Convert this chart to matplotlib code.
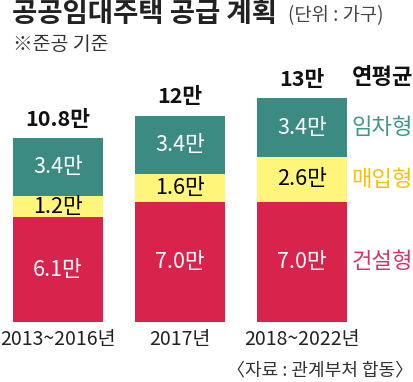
import matplotlib
matplotlib.use("Agg")
import matplotlib.pyplot as plt
import numpy as np

plt.rcParams['font.family'] = ['Noto Sans CJK KR', 'DejaVu Sans']

# data (unit: 만 가구)
periods = ['2013~2016년', '2017년', '2018~2022년']
built = [6.1, 7.0, 7.0]       # 건설형
bought = [1.2, 1.6, 2.6]      # 매입형
leased = [3.4, 3.4, 3.4]      # 임차형
totals = ['10.8만', '12만', '13만']
types = ['건설형', '매입형', '임차형']

c_red = '#d8234c'
c_yel = '#fff57a'
c_teal = '#3b8b82'
txt_cols = ['#d6336b', '#f0c400', '#3f978c']

W, H = 413, 382
fig = plt.figure(figsize=(W / 100, H / 100), dpi=100)

# bars axes: bottom at 322px, 17.2 px per unit, bar spacing 122 px
ax = fig.add_axes([0, (H - 322) / H, 1, 262 / H])
ax.set_ylim(0, 262 / 17.2)
ax.set_xlim(-58 / 122, (W - 58) / 122)
ax.axis('off')

x = np.arange(len(periods))
bw = 90 / 122
ax.bar(x, built, bw, color=c_red)
ax.bar(x, bought, bw, bottom=built, color=c_yel)
bot3 = np.array(built) + np.array(bought)
ax.bar(x, leased, bw, bottom=bot3, color=c_teal)

fs = 15.5
for i in range(len(x)):
    ax.text(x[i], built[i] / 2, f'{built[i]:.1f}만', ha='center', va='center',
            color='white', fontsize=fs)
    ax.text(x[i], built[i] + bought[i] / 2, f'{bought[i]:.1f}만', ha='center',
            va='center', color='black', fontsize=fs)
    ax.text(x[i], bot3[i] + leased[i] / 2, f'{leased[i]:.1f}만', ha='center',
            va='center', color='white', fontsize=fs)
    ax.annotate(totals[i], (x[i], bot3[i] + leased[i]), xytext=(0, 6),
                textcoords='offset points', ha='center', va='bottom',
                color='#111111', fontsize=15.5, fontweight='bold')

# legend labels next to last bar
centers = [built[-1] / 2, built[-1] + bought[-1] / 2, bot3[-1] + leased[-1] / 2]
for lab, yc, col in zip(types, centers, txt_cols):
    ax.text(413 / W, yc, lab, transform=ax.get_yaxis_transform(), ha='right',
            va='center', color=col, fontsize=16)

# x labels
for i, p in enumerate(periods):
    fig.text((58 + 122 * i) / W, 1 - 340 / H, p, ha='center', va='center',
             fontsize=14, color='#222222')

# header
fig.text(12 / W, 1 - 14 / H, '공공임대주택 공급 계획', ha='left', va='center',
         fontsize=19.8, fontweight='bold', color='#222222')
fig.text(288 / W, 1 - 16 / H, '(단위 : 가구)', ha='left', va='center',
         fontsize=13.5, color='#444444')
fig.text(13 / W, 1 - 44 / H, '※준공 기준', ha='left', va='center',
         fontsize=14, color='#333333')
fig.text(413 / W, 1 - 77 / H, '연평균', ha='right', va='center',
         fontsize=16, fontweight='bold', color='#111111')
fig.text(413 / W, 1 - 370 / H, '〈자료 : 관계부처 합동〉', ha='right', va='center',
         fontsize=13, color='#333333')

fig.savefig('out.png', dpi=100)
